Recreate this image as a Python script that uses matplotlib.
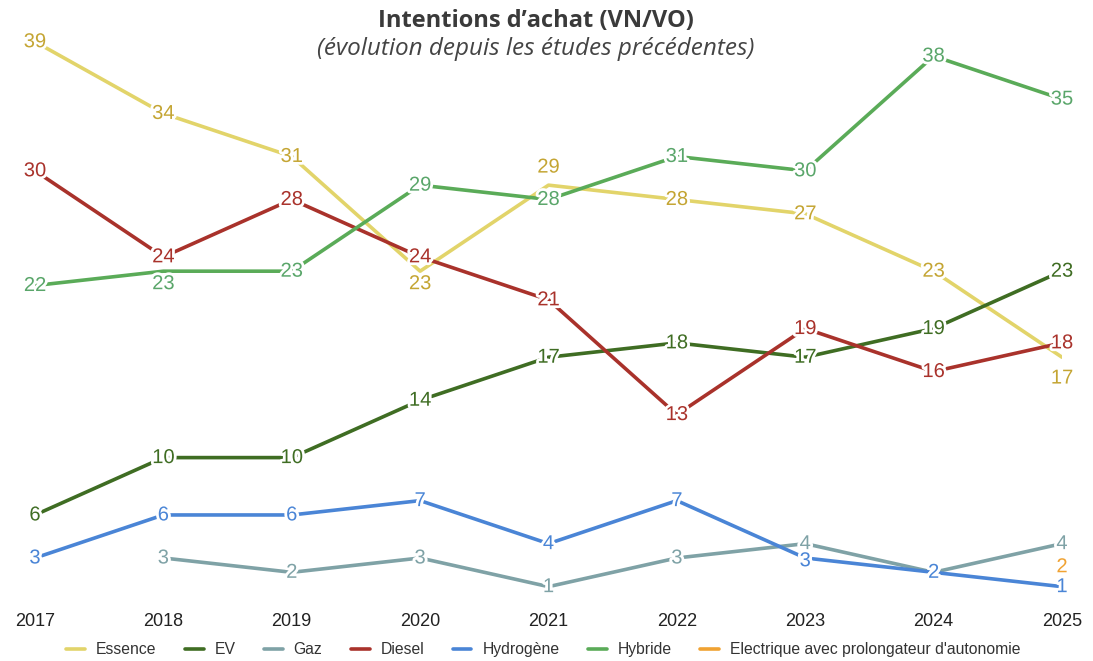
import numpy as np
import matplotlib
matplotlib.use('Agg')
import matplotlib.pyplot as plt
import matplotlib.patheffects as pe

plt.rcParams['font.family'] = ['Liberation Sans', 'DejaVu Sans']

# données
years = [2017, 2018, 2019, 2020, 2021, 2022, 2023, 2024, 2025]
essence = [39, 34, 31, 23, 29, 28, 27, 23, 17]
ev = [6, 10, 10, 14, 17, 18, 17, 19, 23]
gaz = [np.nan, 3, 2, 3, 1, 3, 4, 2, 4]
diesel = [30, 24, 28, 24, 21, 13, 19, 16, 18]
hydrogene = [3, 6, 6, 7, 4, 7, 3, 2, 1]
hybride = [22, 23, 23, 29, 28, 31, 30, 38, 35]
prolongateur = [np.nan, np.nan, np.nan, np.nan, np.nan, np.nan, np.nan, np.nan, 2]

series = [
    ('Essence', essence, '#e2d46a', '#c4a533'),
    ('EV', ev, '#3f6d23', '#3f6d23'),
    ('Gaz', gaz, '#7fa2a6', '#7fa2a6'),
    ('Diesel', diesel, '#a9322b', '#a9322b'),
    ('Hydrogène', hydrogene, '#4a85d6', '#4a85d6'),
    ('Hybride', hybride, '#5aab58', '#5aa66a'),
    ('Electrique avec prolongateur d\'autonomie', prolongateur, '#f0a232', '#f0a232'),
]

# décalages des étiquettes (points) quand elles se chevauchent
offsets = {
    ('Essence', 2020): -9, ('Essence', 2021): 13, ('Essence', 2025): -15,
    ('Hybride', 2018): -9,
    ('Hydrogène', 2023): -2,
    ('Electrique avec prolongateur d\'autonomie', 2025): 4,
}

fig = plt.figure(figsize=(10.93, 6.61), dpi=100)
ax = fig.add_axes([35 / 1093, 60 / 661, (1062 - 35) / 1093, 573.6 / 661])

for i, (name, vals, col, tcol) in enumerate(series):
    ax.plot(years, vals, color=col, lw=2.6, label=name, zorder=2 + i * 0.1,
            solid_capstyle='round')
for i, (name, vals, col, tcol) in enumerate(series):
    for x, v in zip(years, vals):
        if np.isnan(v):
            continue
        dy = offsets.get((name, x), 0)
        ax.annotate(str(int(v)), (x, v), xytext=(0, dy), textcoords='offset points',
                    ha='center', va='center', fontsize=14.5, color=tcol,
                    zorder=10 + i,
                    path_effects=[pe.withStroke(linewidth=4, foreground='white')])

ax.set_xlim(2017, 2025)
ax.set_ylim(0, 40)
ax.set_xticks(years)
ax.set_xticklabels([str(y) for y in years], fontsize=13, color='#222222')
ax.set_yticks([])
ax.tick_params(axis='x', length=0, pad=9)
for s in ax.spines.values():
    s.set_visible(False)

fig.text(0.49, 0.968, 'Intentions d\u2019achat (VN/VO)', ha='center', va='center',
         fontsize=17, fontweight='bold', color='#3a3a3a', family='Open Sans')
fig.text(0.49, 0.926, '(évolution depuis les études précédentes)', ha='center',
         va='center', fontsize=17.5, style='italic', color='#444444', family='Open Sans')

fig.legend(loc='center', bbox_to_anchor=(0.497, 0.017), ncol=7, frameon=False,
           fontsize=11.3, handlelength=1.2, handletextpad=0.7, columnspacing=1.8,
           labelcolor='#333333')

fig.savefig('out.png', dpi=100)
